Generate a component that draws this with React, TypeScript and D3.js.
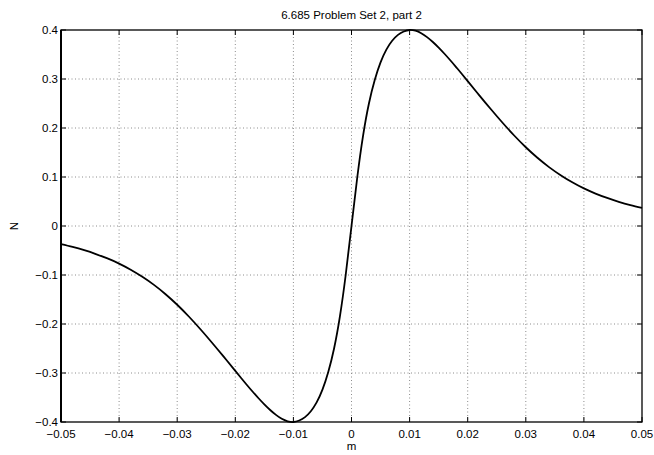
import React from "react";
import * as d3 from "d3";

// values
const mValues = [
  -0.05, -0.048, -0.046, -0.044, -0.042, -0.04, -0.038, -0.036, -0.034, -0.032, -0.03,
  -0.028, -0.026, -0.024, -0.022, -0.02, -0.019, -0.018, -0.017, -0.016, -0.015, -0.014,
  -0.013, -0.012, -0.011, -0.01, -0.009, -0.008, -0.007, -0.006, -0.005, -0.004, -0.003,
  -0.002, -0.001, 0,
  0.001, 0.002, 0.003, 0.004, 0.005, 0.006, 0.007, 0.008, 0.009, 0.01, 0.011, 0.012,
  0.013, 0.014, 0.015, 0.016, 0.017, 0.018, 0.019, 0.02, 0.022, 0.024, 0.026, 0.028,
  0.03, 0.032, 0.034, 0.036, 0.038, 0.04, 0.042, 0.044, 0.046, 0.048, 0.05,
];
const nValues = [
  -0.0369, -0.0427, -0.0494, -0.0572, -0.0662, -0.0767, -0.0892, -0.1037, -0.1202, -0.1392, -0.1607,
  -0.1847, -0.2107, -0.2382, -0.2667, -0.2957, -0.3102, -0.3244, -0.3382, -0.3515, -0.364, -0.3755,
  -0.3855, -0.3935, -0.3985, -0.4, -0.397, -0.39, -0.378, -0.36, -0.334, -0.298, -0.25,
  -0.185, -0.1, 0,
  0.1, 0.185, 0.25, 0.298, 0.334, 0.36, 0.378, 0.39, 0.397, 0.4, 0.3985, 0.3935,
  0.3855, 0.3755, 0.364, 0.3515, 0.3382, 0.3244, 0.3102, 0.2957, 0.2667, 0.2382, 0.2107, 0.1847,
  0.1607, 0.1392, 0.1202, 0.1037, 0.0892, 0.0767, 0.0662, 0.0572, 0.0494, 0.0427, 0.0369,
];
const xTicks = [-0.05, -0.04, -0.03, -0.02, -0.01, 0, 0.01, 0.02, 0.03, 0.04, 0.05];
const yTicks = [-0.4, -0.3, -0.2, -0.1, 0, 0.1, 0.2, 0.3, 0.4];
const title = "6.685 Problem Set 2, part 2";

const W = 654;
const H = 455;
const margin = { top: 30, right: 12, bottom: 33, left: 61 };

const fmt = (v: number) => {
  if (v === 0) return "0";
  const s = String(Math.abs(v));
  return (v < 0 ? "\u2212" : "") + s;
};

export default function App() {
  const x = d3.scaleLinear().domain([-0.05, 0.05]).range([margin.left, W - margin.right]);
  const y = d3.scaleLinear().domain([-0.4, 0.4]).range([H - margin.bottom, margin.top]);

  const pts = mValues.map((m, i) => [m, nValues[i]] as [number, number]);

  const line = d3
    .line<[number, number]>()
    .x((d) => x(d[0]))
    .y((d) => y(d[1]))
    .curve(d3.curveNatural);

  const x0 = x(-0.05), x1 = x(0.05), y0 = y(-0.4), y1 = y(0.4);
  const font = "'Liberation Sans', Arial, sans-serif";

  return (
    <svg width={W} height={H} style={{ position: "absolute", left: 0, top: 0 }} fontFamily={font}>
      <rect x={0} y={0} width={W} height={H} fill="#fff" />
      {/* grid */}
      {xTicks.slice(1, -1).map((t) => (
        <line key={"gx" + t} x1={x(t)} x2={x(t)} y1={y1} y2={y0} stroke="#8c8c8c" strokeWidth={1} strokeDasharray="1 2.5" />
      ))}
      {yTicks.slice(1, -1).map((t) => (
        <line key={"gy" + t} x1={x0} x2={x1} y1={y(t)} y2={y(t)} stroke="#8c8c8c" strokeWidth={1} strokeDasharray="1 2.5" />
      ))}
      {/* ticks */}
      {xTicks.map((t) => (
        <g key={"tx" + t}>
          <line x1={x(t)} x2={x(t)} y1={y0} y2={y0 - 5} stroke="#000" />
          <line x1={x(t)} x2={x(t)} y1={y1} y2={y1 + 5} stroke="#000" />
          <text x={x(t)} y={y0 + 16} textAnchor="middle" fontSize={11.5}>{fmt(t)}</text>
        </g>
      ))}
      {yTicks.map((t) => (
        <g key={"ty" + t}>
          <line x1={x0} x2={x0 + 5} y1={y(t)} y2={y(t)} stroke="#000" />
          <line x1={x1} x2={x1 - 5} y1={y(t)} y2={y(t)} stroke="#000" />
          <text x={x0 - 3} y={y(t) + 4} textAnchor="end" fontSize={11.5}>{fmt(t)}</text>
        </g>
      ))}
      {/* curve */}
      <path d={line(pts) || ""} fill="none" stroke="#000" strokeWidth={1.8} />
      {/* box */}
      <rect x={x0} y={y1} width={x1 - x0} height={y0 - y1} fill="none" stroke="#000" strokeWidth={1.3} />
      <line x1={x0} x2={x0} y1={y1} y2={y0} stroke="#000" strokeWidth={2} />
      <text x={(x0 + x1) / 2} y={19} textAnchor="middle" fontSize={11.5}>{title}</text>
      <text x={(x0 + x1) / 2} y={450} textAnchor="middle" fontSize={11.5}>m</text>
      <text transform={`translate(18,${(y0 + y1) / 2}) rotate(-90)`} textAnchor="middle" fontSize={11.5}>N</text>
    </svg>
  );
}
